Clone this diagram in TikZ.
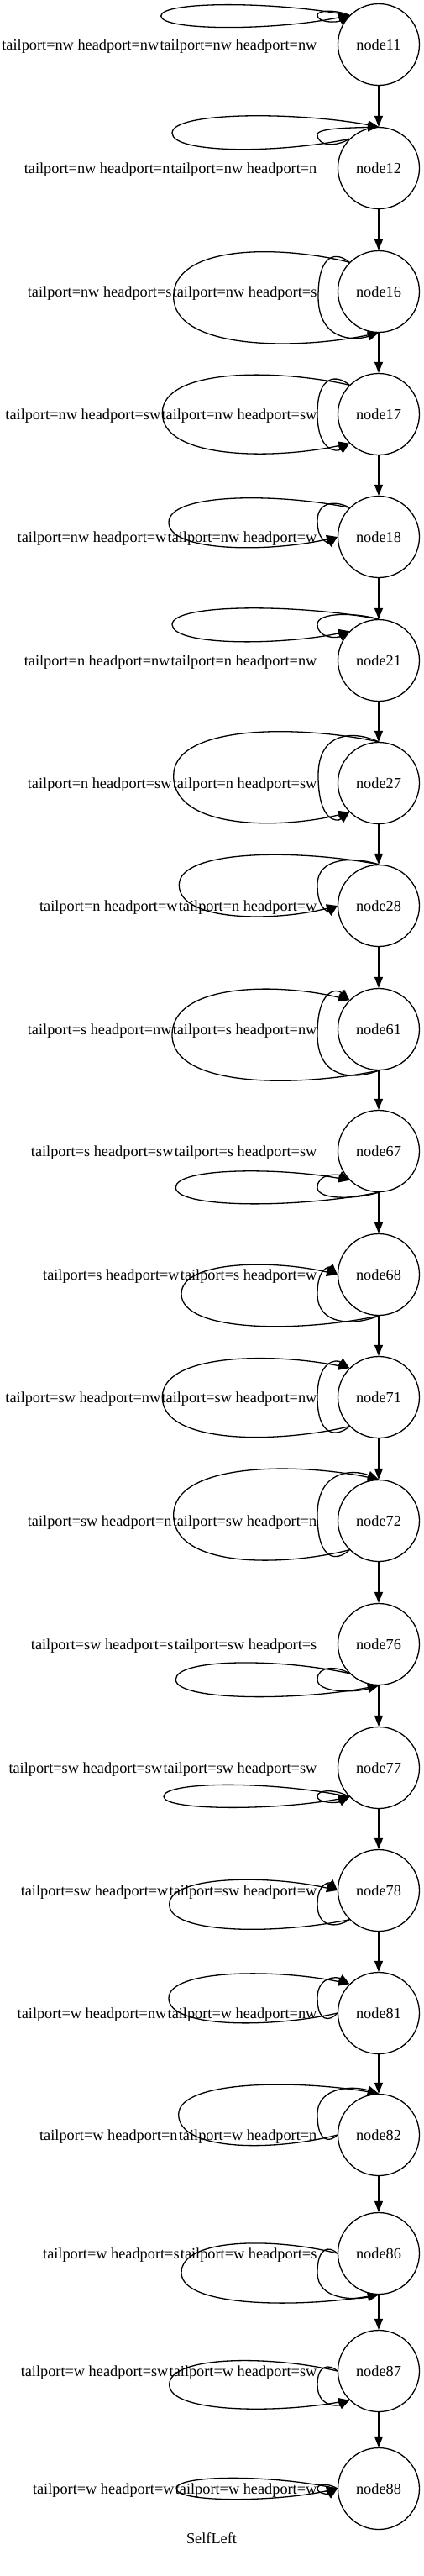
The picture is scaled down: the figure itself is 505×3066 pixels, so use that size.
\documentclass[tikz,border=0pt]{standalone}
\usepackage{fontspec}
\setmainfont{Liberation Serif}
\usetikzlibrary{arrows.meta}

\begin{document}
\begin{tikzpicture}[x=1pt,y=-1pt,line width=1.3pt,
  every node/.style={font=\fontsize{18.3}{22}\selectfont},
  vtx/.style={draw,circle,minimum size=97pt,inner sep=0pt},
  lbl/.style={inner sep=0pt,anchor=base east},
  conn/.style={-{Triangle[length=13pt,width=10pt]}}]
  \useasboundingbox (0,0) rectangle (505,3066);
  % nodes
  \node[vtx] (n11) at (451,53){node11};
  \node[vtx] (n12) at (451,200){node12};
  \node[vtx] (n16) at (451,347){node16};
  \node[vtx] (n17) at (451,493){node17};
  \node[vtx] (n18) at (451,639){node18};
  \node[vtx] (n21) at (451,786){node21};
  \node[vtx] (n27) at (451,932){node27};
  \node[vtx] (n28) at (451,1078){node28};
  \node[vtx] (n61) at (451,1225){node61};
  \node[vtx] (n67) at (451,1370){node67};
  \node[vtx] (n68) at (451,1517){node68};
  \node[vtx] (n71) at (451,1663){node71};
  \node[vtx] (n72) at (451,1810){node72};
  \node[vtx] (n76) at (451,1957){node76};
  \node[vtx] (n77) at (451,2104){node77};
  \node[vtx] (n78) at (451,2250){node78};
  \node[vtx] (n81) at (451,2396){node81};
  \node[vtx] (n82) at (451,2541){node82};
  \node[vtx] (n86) at (451,2682){node86};
  \node[vtx] (n87) at (451,2822){node87};
  \node[vtx] (n88) at (451,2962){node88};
  \node (title) at (252,3021){SelfLeft};
  % labels of the self loops
  \node[lbl] (l11b) at (378,59){tailport=nw headport=nw};
  \node[lbl] (l11a) at (l11b.base west){tailport=nw headport=nw};
  \node[lbl] (l12b) at (378,206){tailport=nw headport=n};
  \node[lbl] (l12a) at (l12b.base west){tailport=nw headport=n};
  \node[lbl] (l16b) at (378,353){tailport=nw headport=s};
  \node[lbl] (l16a) at (l16b.base west){tailport=nw headport=s};
  \node[lbl] (l17b) at (378,499){tailport=nw headport=sw};
  \node[lbl] (l17a) at (l17b.base west){tailport=nw headport=sw};
  \node[lbl] (l18b) at (378,645){tailport=nw headport=w};
  \node[lbl] (l18a) at (l18b.base west){tailport=nw headport=w};
  \node[lbl] (l21b) at (378,792){tailport=n headport=nw};
  \node[lbl] (l21a) at (l21b.base west){tailport=n headport=nw};
  \node[lbl] (l27b) at (378,938){tailport=n headport=sw};
  \node[lbl] (l27a) at (l27b.base west){tailport=n headport=sw};
  \node[lbl] (l28b) at (378,1084){tailport=n headport=w};
  \node[lbl] (l28a) at (l28b.base west){tailport=n headport=w};
  \node[lbl] (l61b) at (378,1231){tailport=s headport=nw};
  \node[lbl] (l61a) at (l61b.base west){tailport=s headport=nw};
  \node[lbl] (l67b) at (378,1376){tailport=s headport=sw};
  \node[lbl] (l67a) at (l67b.base west){tailport=s headport=sw};
  \node[lbl] (l68b) at (378,1523){tailport=s headport=w};
  \node[lbl] (l68a) at (l68b.base west){tailport=s headport=w};
  \node[lbl] (l71b) at (378,1669){tailport=sw headport=nw};
  \node[lbl] (l71a) at (l71b.base west){tailport=sw headport=nw};
  \node[lbl] (l72b) at (378,1816){tailport=sw headport=n};
  \node[lbl] (l72a) at (l72b.base west){tailport=sw headport=n};
  \node[lbl] (l76b) at (378,1963){tailport=sw headport=s};
  \node[lbl] (l76a) at (l76b.base west){tailport=sw headport=s};
  \node[lbl] (l77b) at (378,2110){tailport=sw headport=sw};
  \node[lbl] (l77a) at (l77b.base west){tailport=sw headport=sw};
  \node[lbl] (l78b) at (378,2256){tailport=sw headport=w};
  \node[lbl] (l78a) at (l78b.base west){tailport=sw headport=w};
  \node[lbl] (l81b) at (378,2402){tailport=w headport=nw};
  \node[lbl] (l81a) at (l81b.base west){tailport=w headport=nw};
  \node[lbl] (l82b) at (378,2547){tailport=w headport=n};
  \node[lbl] (l82a) at (l82b.base west){tailport=w headport=n};
  \node[lbl] (l86b) at (378,2688){tailport=w headport=s};
  \node[lbl] (l86a) at (l86b.base west){tailport=w headport=s};
  \node[lbl] (l87b) at (378,2828){tailport=w headport=sw};
  \node[lbl] (l87a) at (l87b.base west){tailport=w headport=sw};
  \node[lbl] (l88b) at (378,2968){tailport=w headport=w};
  \node[lbl] (l88a) at (l88b.base west){tailport=w headport=w};
  % chain
  \draw[conn] (n11) -- (n12);
  \draw[conn] (n12) -- (n16);
  \draw[conn] (n16) -- (n17);
  \draw[conn] (n17) -- (n18);
  \draw[conn] (n18) -- (n21);
  \draw[conn] (n21) -- (n27);
  \draw[conn] (n27) -- (n28);
  \draw[conn] (n28) -- (n61);
  \draw[conn] (n61) -- (n67);
  \draw[conn] (n67) -- (n68);
  \draw[conn] (n68) -- (n71);
  \draw[conn] (n71) -- (n72);
  \draw[conn] (n72) -- (n76);
  \draw[conn] (n76) -- (n77);
  \draw[conn] (n77) -- (n78);
  \draw[conn] (n78) -- (n81);
  \draw[conn] (n81) -- (n82);
  \draw[conn] (n82) -- (n86);
  \draw[conn] (n86) -- (n87);
  \draw[conn] (n87) -- (n88);
  % self loops
  \draw[conn] (n11.north west) .. controls (326.7,1.3) and (191.7,1.3) .. (191.7,19) .. controls (191.7,36.8) and (326.7,36.8) .. (n11.north west);
  \draw[conn] (n11.north west) .. controls (401.2,11.6) and (378,11.6) .. (378,18) .. controls (378,27.2) and (401.2,27.2) .. (n11.north west);
  \draw[conn] (n12.north west) .. controls (332,182.9) and (205,182.9) .. (205,158.3) .. controls (205,132.8) and (352.6,132.8) .. (n12.north);
  \draw[conn] (n12.north west) .. controls (401.2,174.7) and (378,174.7) .. (378,160) .. controls (378,152.1) and (421.8,152.1) .. (n12.north);
  \draw[conn] (n16.north west) .. controls (332.7,291.3) and (206.7,291.3) .. (206.7,353) .. controls (206.7,416.6) and (353.3,416.6) .. (n16.south);
  \draw[conn] (n16.north west) .. controls (401.6,299.7) and (379,299.7) .. (379,353) .. controls (379,405.9) and (422.2,405.9) .. (n16.south);
  \draw[conn] (n17.north west) .. controls (327.3,438.5) and (193.3,438.5) .. (193.3,491.7) .. controls (193.3,547.1) and (327.3,547.1) .. (n17.south west);
  \draw[conn] (n17.north west) .. controls (401.2,445.6) and (378,445.6) .. (378,492) .. controls (378,538.1) and (401.2,538.1) .. (n17.south west);
  \draw[conn] (n18.north west) .. controls (330.4,586.7) and (201,586.7) .. (201,621.7) .. controls (201,657.5) and (321.9,657.5) .. (n18.west);
  \draw[conn] (n18.north west) .. controls (401.2,595.9) and (378,595.9) .. (378,620) .. controls (378,645.8) and (392.7,645.8) .. (n18.west);
  \draw[conn] (n21.north) .. controls (352.6,718.5) and (205,718.5) .. (205,743.3) .. controls (205,768.6) and (332,768.6) .. (n21.north west);
  \draw[conn] (n21.north) .. controls (421.8,728.8) and (378,728.8) .. (378,743) .. controls (378,759.8) and (401.2,759.8) .. (n21.north west);
  \draw[conn] (n27.north) .. controls (353.3,862.5) and (206.7,862.5) .. (206.7,923.3) .. controls (206.7,987.3) and (332.7,987.3) .. (n27.south west);
  \draw[conn] (n27.north) .. controls (422.2,869.6) and (379,869.6) .. (379,923) .. controls (379,978.5) and (401.6,978.5) .. (n27.south west);
  \draw[conn] (n28.north) .. controls (355.9,1010.6) and (213.3,1010.6) .. (213.3,1053.3) .. controls (213.3,1097.2) and (326.8,1097.2) .. (n28.west);
  \draw[conn] (n28.north) .. controls (421.8,1019.6) and (378,1019.6) .. (378,1053) .. controls (378,1084.8) and (392.7,1084.8) .. (n28.west);
  \draw[conn] (n61.south) .. controls (352.6,1294.5) and (205,1294.5) .. (205,1231.7) .. controls (205,1169.6) and (332,1169.6) .. (n61.north west);
  \draw[conn] (n61.south) .. controls (421.8,1285.3) and (378,1285.3) .. (378,1231) .. controls (378,1176.4) and (401.2,1176.4) .. (n61.north west);
  \draw[conn] (n67.south) .. controls (354.3,1438.3) and (209.3,1438.3) .. (209.3,1413.3) .. controls (209.3,1389.5) and (333.7,1389.5) .. (n67.south west);
  \draw[conn] (n67.south) .. controls (421.8,1428) and (378,1428) .. (378,1413.3) .. controls (378,1397.1) and (401.2,1397.1) .. (n67.south west);
  \draw[conn] (n68.south) .. controls (357,1586) and (216,1586) .. (216,1540) .. controls (216,1499.4) and (327.9,1499.4) .. (n68.west);
  \draw[conn] (n68.south) .. controls (421.8,1578) and (378,1578) .. (378,1540) .. controls (378,1507.8) and (392.7,1507.8) .. (n68.west);
  \draw[conn] (n71.south west) .. controls (327.3,1718.6) and (193.3,1718.6) .. (193.3,1663) .. controls (193.3,1610) and (327.3,1610) .. (n71.north west);
  \draw[conn] (n71.south west) .. controls (401.2,1710.6) and (378,1710.6) .. (378,1663) .. controls (378,1618) and (401.2,1618) .. (n71.north west);
  \draw[conn] (n72.south west) .. controls (332.7,1865.4) and (206.7,1865.4) .. (206.7,1803.3) .. controls (206.7,1740.5) and (353.3,1740.5) .. (n72.north);
  \draw[conn] (n72.south west) .. controls (401.2,1858.8) and (378,1858.8) .. (378,1803) .. controls (378,1748.6) and (421.8,1748.6) .. (n72.north);
  \draw[conn] (n76.south west) .. controls (333.7,1973.6) and (209.3,1973.6) .. (209.3,1999) .. controls (209.3,2024.6) and (354.3,2024.6) .. (n76.south);
  \draw[conn] (n76.south west) .. controls (401.2,1982.6) and (378,1982.6) .. (378,1999) .. controls (378,2014.9) and (421.8,2014.9) .. (n76.south);
  \draw[conn] (n77.south west) .. controls (328,2119.6) and (195,2119.6) .. (195,2138.3) .. controls (195,2155.2) and (328,2155.2) .. (n77.south west);
  \draw[conn] (n77.south west) .. controls (401.2,2129.5) and (378,2129.5) .. (378,2138) .. controls (378,2146.3) and (401.2,2146.3) .. (n77.south west);
  \draw[conn] (n78.south west) .. controls (330.7,2302.4) and (201.7,2302.4) .. (201.7,2266.7) .. controls (201.7,2231.6) and (322.2,2231.6) .. (n78.west);
  \draw[conn] (n78.south west) .. controls (401.2,2294.8) and (378,2294.8) .. (378,2266.7) .. controls (378,2240.6) and (392.7,2240.6) .. (n78.west);
  \draw[conn] (n81.west) .. controls (321.9,2414) and (201,2414) .. (201,2378.3) .. controls (201,2343.3) and (330.4,2343.3) .. (n81.north west);
  \draw[conn] (n81.west) .. controls (392.7,2406.6) and (378,2406.6) .. (378,2378) .. controls (378,2352.3) and (401.2,2352.3) .. (n81.north west);
  \draw[conn] (n82.west) .. controls (326.6,2560.7) and (212.7,2560.7) .. (212.7,2516.7) .. controls (212.7,2475.4) and (355.7,2475.4) .. (n82.north);
  \draw[conn] (n82.west) .. controls (392.7,2550.4) and (378,2550.4) .. (378,2516.7) .. controls (378,2482.5) and (421.8,2482.5) .. (n82.north);
  \draw[conn] (n86.west) .. controls (327.9,2663.1) and (216,2663.1) .. (216,2705) .. controls (216,2746.5) and (357,2746.5) .. (n86.south);
  \draw[conn] (n86.west) .. controls (392.7,2673.2) and (378,2673.2) .. (378,2705) .. controls (378,2737.7) and (421.8,2737.7) .. (n86.south);
  \draw[conn] (n87.west) .. controls (322.2,2803.3) and (201.7,2803.3) .. (201.7,2838.3) .. controls (201.7,2872.2) and (330.7,2872.2) .. (n87.south west);
  \draw[conn] (n87.west) .. controls (392.7,2813.6) and (378,2813.6) .. (378,2838.3) .. controls (378,2864.2) and (401.2,2864.2) .. (n87.south west);
  \draw[conn] (n88.west) .. controls (325.5,2945.1) and (210,2945.1) .. (210,2962) .. controls (210,2978.4) and (325.5,2978.4) .. (n88.west);
  \draw[conn] (n88.west) .. controls (392.7,2955.7) and (378,2955.7) .. (378,2962) .. controls (378,2968.3) and (392.7,2968.3) .. (n88.west);
\end{tikzpicture}
\end{document}
